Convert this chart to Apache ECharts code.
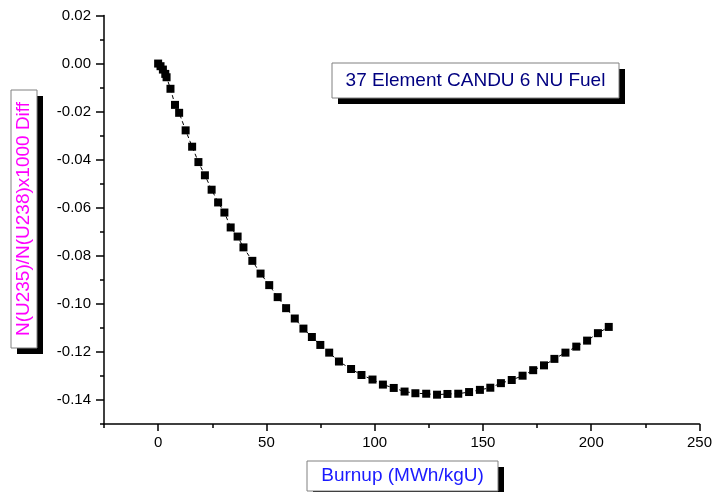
<!DOCTYPE html>
<html>
<head>
<meta charset="utf-8">
<script src="https://cdn.jsdelivr.net/npm/echarts@6/dist/echarts.min.js"></script>
<style>
    html, body { margin: 0; padding: 0; background: #fff; }
    #chart { width: 715px; height: 492px; }
</style>
</head>
<body>
<div id="chart"></div>
<script>
    // burnup (MWh/kgU)
    var burnup = [0, 1.1, 2.2, 3.3, 3.9, 5.7, 7.8, 9.7, 12.7, 15.7,
        18.6, 21.6, 24.7, 27.7, 30.6, 33.5, 36.7, 39.4, 43.5, 47.3,
        51.3, 55.2, 59.1, 63.1, 67.1, 71.0, 74.9, 79.0, 83.5, 89.1,
        93.9, 99.0, 103.8, 108.8, 113.8, 118.8, 123.8, 128.8, 133.6, 138.6,
        143.6, 148.6, 153.4, 158.3, 163.3, 168.3, 173.2, 178.2, 183.0, 188.1,
        193.1, 198.1, 203.1, 208.1]
    // N(U235)/N(U238)x1000 difference
    var diff = [0.000, -0.0011, -0.0025, -0.0043, -0.0057, -0.0105, -0.0172, -0.0205, -0.0278, -0.0346,
        -0.0410, -0.0465, -0.0525, -0.0578, -0.0620, -0.0682, -0.0720, -0.0765, -0.0821, -0.0874,
        -0.0922, -0.0972, -0.1018, -0.1061, -0.1103, -0.1138, -0.1171, -0.1203, -0.1240, -0.1271,
        -0.1296, -0.1315, -0.1336, -0.1350, -0.1365, -0.1372, -0.1374, -0.1378, -0.1375, -0.1374,
        -0.1367, -0.1358, -0.1349, -0.1330, -0.1317, -0.1299, -0.1276, -0.1256, -0.1229, -0.1203,
        -0.1178, -0.1153, -0.1122, -0.1096]
    // tick labels
    var xTicks = [0, 50, 100, 150, 200, 250]
    var yTicks = [-0.14, -0.12, -0.10, -0.08, -0.06, -0.04, -0.02, 0.00, 0.02]

    var titleText = '37 Element CANDU 6 NU Fuel'
    var xName = 'Burnup (MWh/kgU)'
    var yName = 'N(U235)/N(U238)x1000 Diff'

    var font = '"Liberation Sans", Arial, sans-serif'

    var points = burnup.map(function (b, i) { return [b, diff[i]] })

    // box with a black drop shadow, Origin style
    function labelBox (x, y, w, h, text, color, rotate) {
        return {
            type: 'group',
            children: [
                { type: 'rect', shape: { x: x + 6, y: y + 6, width: w, height: h }, style: { fill: '#000' } },
                { type: 'rect', shape: { x: x, y: y, width: w, height: h }, style: { fill: '#fff', stroke: '#808080', lineWidth: 1 } },
                {
                    type: 'text',
                    x: x + w / 2,
                    y: y + h / 2,
                    rotation: rotate ? Math.PI / 2 : 0,
                    style: {
                        text: text,
                        fill: color,
                        fontSize: 19,
                        fontFamily: font,
                        align: 'center',
                        verticalAlign: 'middle'
                    }
                }
            ]
        }
    }

    var chart = echarts.init(document.getElementById('chart'))
    chart.setOption({
        backgroundColor: '#fff',
        animation: false,
        grid: { left: 104, right: 8, top: 15.5, bottom: 68 },
        xAxis: [{
            type: 'value',
            min: -25,
            max: 250,
            axisLine: { onZero: false, lineStyle: { color: '#000', width: 1.5 } },
            axisTick: { customValues: xTicks, length: 7, lineStyle: { color: '#000', width: 1.5 } },
            axisLabel: { customValues: xTicks, color: '#000', fontSize: 15, fontFamily: font, margin: 11 },
            splitLine: { show: false }
        }, {
            // minor ticks
            type: 'value',
            min: -25,
            max: 250,
            interval: 25,
            position: 'bottom',
            axisLine: { show: false, onZero: false },
            axisTick: { length: 4, lineStyle: { color: '#000', width: 1.5 } },
            axisLabel: { show: false },
            splitLine: { show: false }
        }],
        yAxis: [{
            type: 'value',
            min: -0.15,
            max: 0.02,
            axisLine: { onZero: false, lineStyle: { color: '#000', width: 1.5 } },
            axisTick: { customValues: yTicks, length: 8, lineStyle: { color: '#000', width: 1.5 } },
            axisLabel: {
                customValues: yTicks,
                color: '#000',
                fontSize: 15,
                fontFamily: font,
                margin: 13,
                formatter: function (v) { return v.toFixed(2) }
            },
            splitLine: { show: false }
        }, {
            type: 'value',
            min: -0.15,
            max: 0.02,
            interval: 0.01,
            position: 'left',
            axisLine: { show: false, onZero: false },
            axisTick: { length: 4, lineStyle: { color: '#000', width: 1.5 } },
            axisLabel: { show: false },
            splitLine: { show: false }
        }],
        series: [{
            type: 'line',
            xAxisIndex: 0,
            yAxisIndex: 0,
            data: points,
            symbol: 'rect',
            symbolSize: 8,
            itemStyle: { color: '#000' },
            lineStyle: { color: '#000', width: 1, type: [4, 3] }
        }],
        graphic: [
            labelBox(332, 63, 287, 35, titleText, '#000080', false),
            labelBox(11, 90, 26, 258, yName, '#ff00ff', true),
            labelBox(307, 461, 191, 30, xName, '#1a1aff', false)
        ]
    })
</script>
</body>
</html>
